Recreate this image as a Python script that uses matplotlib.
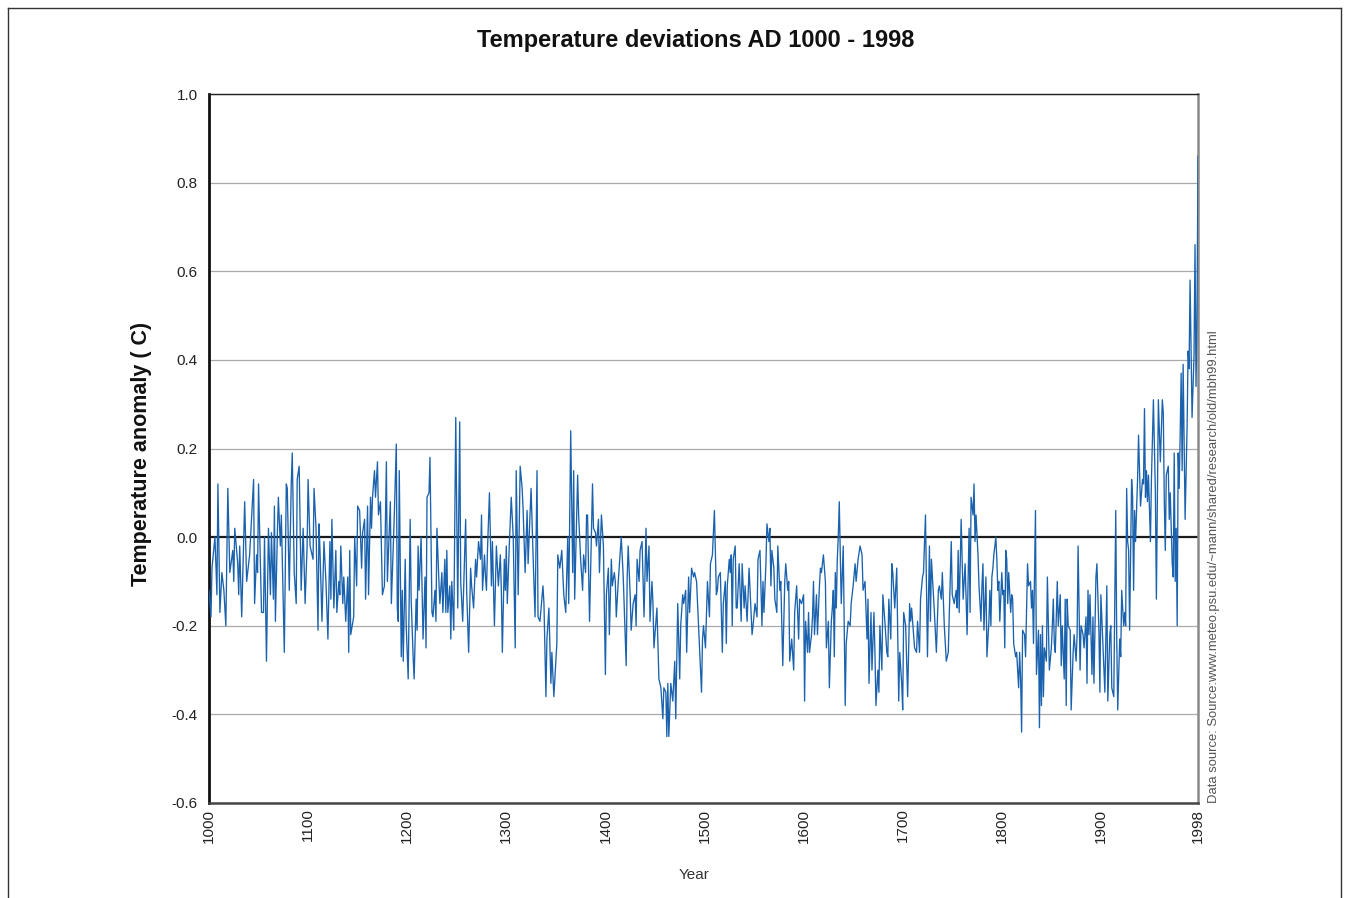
import matplotlib
matplotlib.use("Agg")
import matplotlib.pyplot as plt
from matplotlib.lines import Line2D

plt.rcParams['font.family'] = ['Liberation Sans', 'DejaVu Sans']

# ---- data (year, anomaly in C) ----
yr_1000 = [1000,1002,1003,1006,1008,1009,1011,1013,1015,1017,1019,1021,1024,1025,1026,1029,1030,1031,1033,1036,
           1038,1041,1045,1046,1048,1049,1050,1053,1055,1056,1058,1060,1062,1063,1065,1066,1067,1069,1070,1072,
           1073,1076,1078,1079,1081,1083,1084,1086,1088,1089,1091,1093,1095,1097,1099]
an_1000 = [-0.12,-0.18,-0.07,0.0,-0.13,0.12,-0.17,-0.08,-0.12,-0.20,0.11,-0.08,-0.03,-0.10,0.02,-0.06,-0.13,-0.02,-0.18,0.08,
           -0.10,-0.04,0.13,-0.15,-0.04,-0.08,0.12,-0.17,-0.17,0.0,-0.28,0.02,-0.13,0.01,-0.14,0.07,-0.19,0.01,0.09,-0.02,
           0.05,-0.26,0.12,0.11,-0.12,0.12,0.19,-0.08,-0.15,0.13,0.16,-0.12,0.02,-0.15,-0.02]

yr_1100 = [1100,1102,1105,1106,1108,1110,1111,1112,1114,1116,1118,1120,1122,1123,1124,1126,1128,1129,1131,1132,
           1133,1135,1136,1138,1140,1141,1142,1143,1146,1147,1149,1150,1152,1154,1155,1157,1158,1160,1161,1163,
           1164,1165,1167,1168,1170,1171,1173,1175,1177,1179,1180,1183,1184,1186,1187,1189,1190,1191,1192,1194,
           1195,1196,1198,1199]
an_1100 = [0.13,-0.02,-0.05,0.11,0.02,-0.21,0.03,-0.03,-0.19,-0.01,-0.10,-0.23,-0.01,-0.14,0.04,-0.16,-0.03,-0.17,-0.10,-0.13,
           -0.02,-0.15,-0.09,-0.19,-0.09,-0.26,-0.03,-0.22,-0.18,0.0,-0.11,0.07,0.06,-0.07,0.01,0.04,-0.14,0.07,-0.13,0.09,
           0.02,0.09,0.15,0.09,0.17,0.05,0.08,-0.13,-0.11,0.17,-0.10,0.08,-0.15,-0.02,0.05,0.21,-0.16,-0.19,0.15,-0.27,
           -0.12,-0.28,-0.05,-0.20]

yr_1200 = [1201,1203,1204,1206,1207,1209,1210,1211,1212,1214,1216,1218,1219,1220,1222,1223,1225,1226,1228,1229,
           1230,1232,1233,1235,1236,1238,1239,1240,1241,1243,1244,1245,1247,1249,1251,1253,1254,1256,1259,1260,
           1262,1264,1265,1267,1269,1270,1272,1274,1275,1276,1278,1279,1280,1281,1283,1285,1286,1288,1290,1292,
           1294,1295,1296,1298,1299]
an_1200 = [-0.32,0.04,-0.14,-0.27,-0.32,-0.14,-0.21,-0.02,-0.12,0.0,-0.23,-0.09,-0.25,0.09,0.10,0.18,-0.17,-0.18,-0.12,-0.19,
           0.02,-0.10,-0.15,-0.08,-0.17,-0.05,-0.17,-0.03,-0.17,-0.11,-0.23,-0.10,-0.21,0.27,-0.16,0.26,-0.10,-0.19,0.04,-0.12,
           -0.26,-0.07,-0.11,-0.16,-0.05,-0.09,-0.01,-0.05,0.05,-0.12,-0.04,-0.09,-0.12,-0.03,0.10,-0.11,-0.01,-0.20,-0.02,-0.11,
           -0.04,-0.12,-0.26,-0.05,-0.12]

yr_1300 = [1300,1301,1303,1305,1307,1309,1310,1312,1314,1316,1317,1319,1321,1322,1325,1327,1329,1331,1332,1334,
           1337,1338,1340,1341,1343,1345,1346,1348,1351,1352,1354,1356,1358,1360,1362,1363,1365,1367,1368,1369,
           1372,1373,1375,1377,1378,1380,1381,1382,1384,1385,1387,1388,1390,1391,1393,1394,1396,1398]
an_1300 = [-0.02,-0.15,-0.02,0.09,0.0,-0.25,0.15,-0.13,0.16,0.11,0.06,-0.08,0.06,-0.06,0.11,-0.04,-0.18,0.15,-0.18,-0.19,
           -0.11,-0.15,-0.36,-0.23,-0.16,-0.33,-0.26,-0.36,-0.24,-0.04,-0.07,-0.03,-0.13,-0.17,0.0,-0.15,0.24,-0.08,0.15,-0.14,
           0.14,0.05,-0.05,-0.12,-0.04,-0.08,0.05,0.05,-0.19,-0.09,0.12,0.02,0.01,-0.02,0.04,-0.08,0.05,-0.02]

yr_1400 = [1400,1401,1403,1404,1406,1407,1409,1410,1411,1413,1416,1418,1421,1422,1423,1425,1426,1428,1430,1431,
           1432,1434,1435,1437,1439,1441,1442,1444,1445,1447,1448,1449,1452,1454,1456,1458,1459,1461,1462,1463,
           1464,1466,1468,1470,1471,1473,1475,1476,1478,1479,1481,1482,1484,1485,1487,1489,1490,1492,1494,1495,
           1497,1498,1499]
an_1400 = [-0.31,-0.13,-0.07,-0.22,-0.05,-0.11,-0.08,-0.10,-0.18,-0.10,0.0,-0.09,-0.29,-0.09,-0.02,-0.13,-0.21,-0.15,-0.13,-0.20,
           -0.05,-0.10,-0.03,-0.01,-0.18,0.02,-0.10,-0.02,-0.19,-0.10,-0.15,-0.25,-0.16,-0.32,-0.34,-0.41,-0.34,-0.35,-0.45,-0.33,
           -0.45,-0.33,-0.37,-0.28,-0.41,-0.15,-0.32,-0.20,-0.13,-0.15,-0.12,-0.26,-0.09,-0.17,-0.07,-0.09,-0.08,-0.10,-0.20,-0.25,
           -0.35,-0.23,-0.20]

yr_1500 = [1501,1503,1505,1506,1508,1510,1512,1513,1514,1516,1518,1519,1521,1522,1523,1525,1526,1527,1528,1529,
           1531,1532,1533,1535,1537,1538,1540,1541,1543,1545,1548,1549,1551,1553,1554,1556,1558,1559,1560,1562,
           1563,1565,1566,1567,1568,1570,1571,1573,1574,1576,1577,1579,1581,1582,1584,1585,1586,1588,1590,1591,
           1593,1595,1596,1598]
an_1500 = [-0.25,-0.10,-0.18,-0.06,-0.04,0.06,-0.13,-0.12,-0.09,-0.08,-0.26,-0.15,-0.10,-0.24,-0.11,-0.05,-0.08,-0.04,-0.20,-0.05,
           -0.02,-0.16,-0.16,-0.06,-0.19,-0.06,-0.16,-0.11,-0.19,-0.07,-0.22,-0.20,-0.15,-0.18,-0.05,-0.03,-0.20,-0.10,-0.17,-0.06,
           0.03,-0.01,0.02,-0.11,-0.03,-0.07,-0.14,-0.17,-0.02,-0.12,-0.10,-0.29,-0.10,-0.06,-0.12,-0.10,-0.28,-0.23,-0.30,-0.17,
           -0.11,-0.23,-0.14,-0.15]

yr_1600 = [1600,1601,1602,1604,1605,1606,1608,1609,1610,1611,1613,1614,1616,1617,1618,1620,1622,1623,1625,1626,
           1628,1629,1630,1631,1632,1633,1634,1635,1636,1637,1638,1640,1642,1643,1645,1647,1648,1650,1652,1653,
           1655,1657,1659,1660,1662,1664,1665,1666,1668,1669,1671,1672,1673,1675,1676,1677,1679,1680,1682,1684,
           1685,1686,1688,1689,1690,1692,1694,1696,1697,1699]
an_1600 = [-0.13,-0.37,-0.19,-0.26,-0.17,-0.26,-0.22,-0.18,-0.10,-0.22,-0.13,-0.22,-0.11,-0.07,-0.08,-0.04,-0.10,-0.25,-0.19,-0.34,
           -0.19,-0.16,-0.12,-0.27,-0.08,-0.16,-0.05,0.0,0.08,-0.03,-0.15,-0.02,-0.38,-0.24,-0.19,-0.20,-0.15,-0.11,-0.06,-0.10,
           -0.05,-0.02,-0.04,-0.12,-0.10,-0.23,-0.14,-0.33,-0.17,-0.30,-0.17,-0.26,-0.38,-0.30,-0.35,-0.20,-0.30,-0.13,-0.19,-0.26,
           -0.27,-0.14,-0.23,-0.06,-0.08,-0.16,-0.07,-0.37,-0.26,-0.33]

yr_1700 = [1700,1701,1703,1705,1707,1708,1709,1711,1712,1714,1715,1717,1718,1720,1721,1723,1725,1727,1728,1729,
           1732,1734,1736,1737,1739,1740,1742,1744,1746,1749,1750,1752,1754,1755,1756,1757,1759,1761,1763,1765,
           1767,1768,1769,1771,1772,1773,1774,1776,1777,1779,1780,1781,1782,1784,1785,1787,1788,1789,1790,1791,
           1792,1794,1795,1796,1797,1798]
an_1700 = [-0.39,-0.17,-0.20,-0.36,-0.15,-0.19,-0.16,-0.22,-0.25,-0.26,-0.19,-0.26,-0.14,-0.09,-0.08,0.05,-0.27,-0.02,-0.19,-0.05,
           -0.17,-0.26,-0.12,-0.11,-0.14,-0.08,-0.20,-0.28,-0.26,-0.01,-0.13,-0.15,-0.12,-0.16,-0.03,-0.17,0.04,-0.14,-0.06,-0.22,
           0.02,-0.17,0.09,0.05,0.12,-0.01,0.05,-0.04,-0.11,-0.19,-0.11,-0.06,-0.21,-0.09,-0.27,-0.19,-0.12,-0.20,-0.09,-0.07,
           -0.04,0.0,-0.05,-0.12,-0.10,-0.19]

yr_1800 = [1800,1801,1802,1803,1804,1805,1806,1807,1809,1810,1811,1812,1814,1815,1817,1818,1819,1820,1821,1823,
           1824,1826,1827,1829,1830,1831,1832,1834,1835,1837,1838,1839,1840,1841,1842,1843,1845,1846,1847,1848,
           1850,1851,1852,1853,1854,1856,1857,1859,1860,1861,1863,1864,1865,1866,1867,1869,1870,1872,1873,1875,
           1876,1877,1879,1880,1882,1883,1885,1886,1887,1888,1889,1891,1892,1893,1895,1896,1898,1899]
an_1800 = [-0.08,-0.13,-0.12,-0.25,-0.03,-0.05,-0.15,-0.08,-0.17,-0.13,-0.14,-0.24,-0.27,-0.26,-0.34,-0.26,-0.32,-0.44,-0.21,-0.22,
           -0.27,-0.06,-0.11,-0.10,-0.16,-0.12,-0.24,0.06,-0.31,-0.21,-0.43,-0.22,-0.38,-0.20,-0.36,-0.25,-0.28,-0.09,-0.19,-0.30,
           -0.25,-0.20,-0.14,-0.24,-0.26,-0.10,-0.20,-0.13,-0.29,-0.20,-0.32,-0.14,-0.38,-0.14,-0.20,-0.21,-0.39,-0.26,-0.22,-0.28,
           -0.22,-0.02,-0.30,-0.20,-0.22,-0.25,-0.18,-0.33,-0.12,-0.22,-0.13,-0.31,-0.18,-0.33,-0.09,-0.06,-0.21,-0.35]

yr_1900 = [1900,1902,1904,1906,1907,1909,1910,1911,1913,1915,1916,1917,1919,1920,1921,1923,1924,1925,1926,1927,
           1928,1929,1931,1932,1933,1934,1935,1937,1938,1939,1940,1942,1943,1944,1945,1946,1947,1948,1950,1951,
           1953,1955,1956,1958,1960,1962,1963,1964,1965,1966,1968,1969,1970,1972,1973,1974,1975,1976,1977,1978,
           1979,1980,1981,1982,1983,1985,1987,1988,1989,1990,1992,1994,1995,1996,1997,1998]
an_1900 = [-0.13,-0.24,-0.35,-0.11,-0.37,-0.22,-0.20,-0.34,-0.36,0.06,-0.23,-0.39,-0.23,-0.27,-0.12,-0.20,-0.17,-0.20,0.11,-0.01,
           -0.03,-0.21,0.13,0.09,-0.12,0.06,-0.01,0.13,0.23,0.15,0.07,0.13,0.12,0.29,0.09,0.15,0.08,0.14,-0.01,0.13,
           0.31,0.10,-0.14,0.31,0.17,0.31,0.28,0.08,-0.03,0.14,0.16,0.04,0.10,-0.06,-0.09,0.19,-0.10,0.02,-0.20,0.19,
           0.11,0.23,0.37,0.15,0.39,0.04,0.25,0.42,0.38,0.58,0.27,0.41,0.66,0.34,0.50,0.86]

years = yr_1000 + yr_1100 + yr_1200 + yr_1300 + yr_1400 + yr_1500 + yr_1600 + yr_1700 + yr_1800 + yr_1900
anomaly = an_1000 + an_1100 + an_1200 + an_1300 + an_1400 + an_1500 + an_1600 + an_1700 + an_1800 + an_1900

x_ticks = [1000, 1100, 1200, 1300, 1400, 1500, 1600, 1700, 1800, 1900, 1998]
y_ticks = [-0.6, -0.4, -0.2, 0.0, 0.2, 0.4, 0.6, 0.8, 1.0]
y_tick_labels = ['-0.6', '-0.4', '-0.2', '0.0', '0.2', '0.4', '0.6', '0.8', '1.0']

title = 'Temperature deviations AD 1000 - 1998'
x_label = 'Year'
y_label = 'Temperature anomaly ( C)'
source = 'Data source: Source:www.meteo.psu.edu/~mann/shared/research/old/mbh99.html'

# ---- figure ----
W, H = 1349, 898
fig = plt.figure(figsize=(W / 100, H / 100), dpi=100)
ax = fig.add_axes([209 / W, 1 - 803 / H, (1198 - 209) / W, (803 - 94) / H])

for yv in y_ticks:
    if abs(yv) < 1e-9:
        ax.axhline(0, color='#1a1a1a', lw=1.6, zorder=2)
    else:
        ax.axhline(yv, color='#aaaaaa', lw=0.9, zorder=1)

ax.plot(years, anomaly, color='#1a62ad', lw=0.95, zorder=3)

ax.set_xlim(1000, 1998)
ax.set_ylim(-0.6, 1.0)
ax.set_xticks(x_ticks)
ax.set_xticklabels([str(t) for t in x_ticks], rotation=90, fontsize=11, color='#222222')
ax.set_yticks(y_ticks)
ax.set_yticklabels(y_tick_labels, fontsize=11, color='#222222')
ax.tick_params(axis='both', length=0)
ax.tick_params(axis='y', pad=8)
ax.tick_params(axis='x', pad=4)

ax.spines['left'].set_color('#111111')
ax.spines['left'].set_linewidth(2.0)
ax.spines['bottom'].set_color('#444444')
ax.spines['bottom'].set_linewidth(1.8)
ax.spines['top'].set_color('#222222')
ax.spines['top'].set_linewidth(1.0)
ax.spines['right'].set_color('#8a8a8a')
ax.spines['right'].set_linewidth(1.8)

fig.text(696 / W, 1 - 40 / H, title, ha='center', va='center', fontsize=17, fontweight='bold', color='#111111')
fig.text(141 / W, 1 - 454 / H, y_label, ha='center', va='center', rotation=90,
         fontsize=15.5, fontweight='bold', color='#111111')
fig.text(694 / W, 1 - 875 / H, x_label, ha='center', va='center', fontsize=11, color='#333333')
fig.text(1214 / W, 1 - 803 / H, source, ha='center', va='bottom', rotation=90, fontsize=9.4, color='#555555')

# outer frame
fc = '#333333'
fig.add_artist(Line2D([7.5 / W, 7.5 / W], [0, 1 - 8 / H], transform=fig.transFigure, color=fc, lw=1.0))
fig.add_artist(Line2D([7.5 / W, 1341 / W], [1 - 8 / H, 1 - 8 / H], transform=fig.transFigure, color=fc, lw=1.0))
fig.add_artist(Line2D([1341 / W, 1341 / W], [0, 1 - 8 / H], transform=fig.transFigure, color=fc, lw=1.0))

fig.savefig('out.png', dpi=100)
